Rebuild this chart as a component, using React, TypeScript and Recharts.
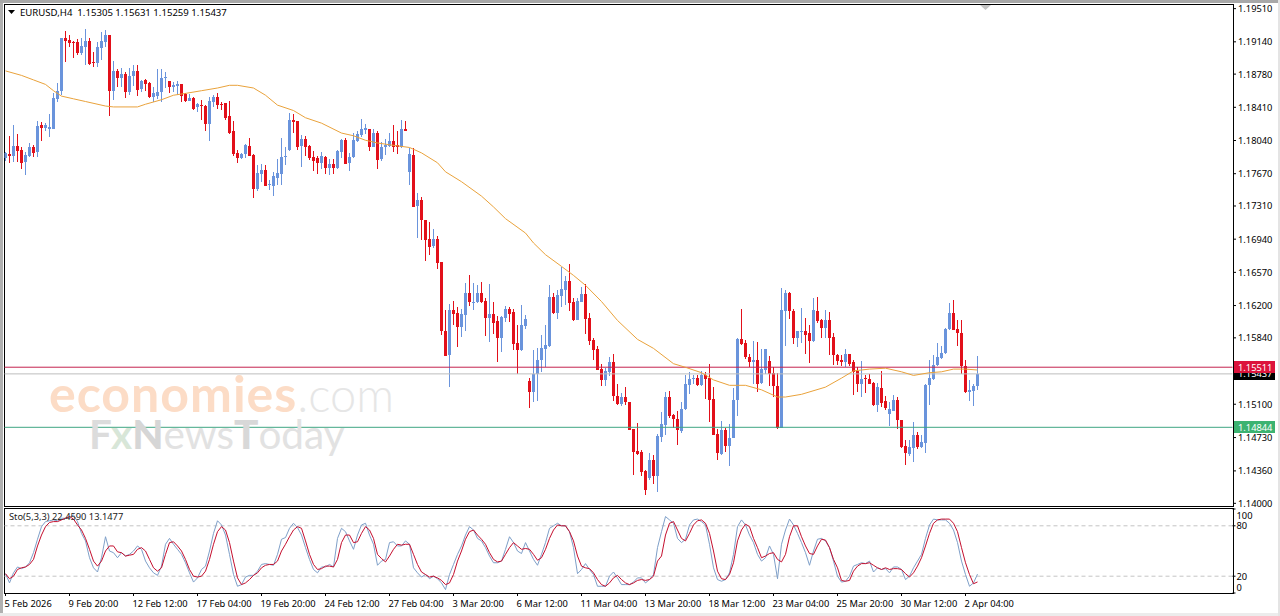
import React from "react";
import { ComposedChart, Bar, Line, XAxis, YAxis, ReferenceLine } from "recharts";

// All candle values are pips above 1.1400
const PRICE_BASE = 1.14;
const PIP = 0.0001;

const opens = [
383,388,385,397,392,379,385,396,390,420,
417,415,416,449,458,516,514,512,512,500,
507,513,490,489,505,512,520,458,480,472,
477,457,474,480,460,470,467,451,452,457,
472,469,462,463,465,454,447,450,440,442,
441,421,446,451,443,444,430,413,389,383,
388,397,387,349,366,370,353,352,361,366,
385,392,425,424,397,404,397,384,383,378,
384,372,377,372,390,403,378,384,402,409,
414,416,396,411,382,396,397,402,398,395,
415,368,387,330,337,314,293,286,293,268,
191,165,215,211,196,209,234,223,223,234,
225,206,210,202,184,206,216,212,178,170,
197,136,124,144,159,171,175,229,211,230,
237,247,224,203,224,232,206,181,171,149,
137,146,157,119,110,118,112,83,58,57,
36,28,48,30,74,87,118,98,94,80,
105,131,138,139,131,143,139,116,77,55,
81,64,73,115,182,178,162,157,159,134,
148,158,145,130,84,214,234,214,184,190,
191,189,180,213,204,195,204,185,165,159,
157,166,157,147,132,139,138,134,109,128,
114,99,103,115,93,64,55,61,76,63,
67,131,138,153,161,167,194,211,193,189,
152,124,125,130.5];

const highs = [
390,408,420,410,396,390,400,398,424,423,
422,432,456,467,516,524,520,513,515,517,
526,516,501,512,523,525,520,491,482,483,
479,483,486,486,470,471,468,462,482,482,
479,469,468,469,466,455,454,451,444,448,
442,451,453,455,445,444,447,424,392,389,
399,406,388,375,377,376,359,368,382,405,
396,433,432,424,409,408,398,391,385,390,
385,382,382,392,404,406,389,411,413,427,
421,416,415,413,401,404,411,420,413,425,
424,394,394,345,340,314,312,305,297,268,
215,221,225,218,216,245,253,245,242,246,
228,243,223,208,208,219,218,216,198,220,
209,139,170,172,187,198,242,234,237,262,
252,266,228,228,240,244,211,183,175,155,
150,162,166,132,122,129,113,83,89,59,
37,56,54,77,101,124,125,99,102,113,
142,146,143,143,147,146,155,129,82,91,
84,88,128,183,216,181,166,180,179,171,
171,164,151,145,239,237,235,216,191,217,
206,198,228,229,205,215,212,189,166,165,
171,166,159,151,158,142,144,135,134,147,
119,113,120,118,93,70,70,90,79,76,
132,159,165,178,175,195,222,226,204,204,
159,137,133,163.1];

const lows = [
380,378,379,379,371,364,384,384,384,402,
413,407,415,445,453,490,507,494,498,498,
487,487,484,484,492,507,430,448,462,462,
450,453,463,452,457,458,450,445,449,445,
461,455,457,453,446,445,447,437,434,425,
413,402,440,438,437,425,410,385,378,382,
383,385,339,347,357,352,348,341,353,353,
376,391,411,392,373,385,381,369,366,371,
366,364,366,371,383,377,369,383,401,407,
410,391,396,371,380,387,396,390,388,394,
413,353,329,295,292,269,276,283,260,187,
163,129,198,173,185,191,219,215,222,222,
186,179,188,157,168,201,201,170,144,169,
194,106,112,114,146,151,173,210,205,218,
220,213,202,203,224,188,176,159,148,130,
130,141,114,109,108,109,81,31,54,30,
9,26,22,13,68,76,95,84,65,78,
104,121,132,130,130,116,90,76,48,54,
57,41,72,97,176,160,151,133,124,133,
144,130,118,83,84,175,205,177,174,178,
166,156,179,200,184,183,165,154,153,152,
151,152,120,124,118,122,132,108,101,107,
104,86,102,83,61,42,53,46,60,61,
56,109,137,152,160,166,192,192,175,144,
123,114,108,125.9];

const closes = [
389,386,397,391,378,387,396,389,419,417,
420,418,450,458,516,513,511,511,500,508,
513,488,489,507,513,520,458,480,472,477,
457,474,480,459,469,465,451,455,457,472,
473,462,464,466,452,447,450,438,443,441,
421,447,451,442,442,428,411,388,383,388,
398,386,349,367,370,352,355,363,367,384,
386,425,423,395,404,396,383,380,378,385,
372,377,372,391,403,377,384,403,410,416,
417,396,411,381,395,398,402,396,396,416,
413,388,329,337,314,292,285,293,267,191,
164,215,210,196,210,234,223,223,234,224,
206,210,200,184,207,216,210,177,170,198,
205,124,144,159,172,176,229,211,231,238,
247,222,203,225,232,205,180,170,148,137,
147,157,119,110,118,113,81,57,55,35,
15,48,30,75,88,118,97,94,81,105,
132,138,139,131,142,138,115,76,56,81,
64,73,115,182,177,162,157,159,133,149,
171,144,130,84,215,234,213,183,191,191,
187,180,215,202,195,204,184,165,158,157,
166,155,146,132,138,138,132,109,129,111,
106,105,115,93,63,56,62,76,63,68,
131,139,154,162,167,194,211,192,189,152,
124,126,130,143.7];

// Moving average: read at the bars where the curve changes direction
const maBars = [0,4,7,10,12,14,17,20,25,27,33,35,39,42,45,49,53,56,58,62,65,68,72,75,79,84,87,90,93,96,101,104,108,110,114,119,122,125,130,132,135,139,142,145,149,153,158,162,167,170,174,177,181,185,189,193,195,199,205,209,212,216,220,224,227,231,234,237,240,243];
const maPips = [480,475,470,465,458,452,449,446,441,440,440,443,448,453,455,458,461,464,464,461,453,442,436,428,422,411,408,403,400,398,395,389,378,368,357,341,329,316,300,289,276,263,253,242,224,203,182,172,155,151,145,137,131,131,126,118,118,121,129,139,147,149,150,146,142,145,146,149,149,148];

const stoMain = [
23,12,24,31,29,31,36,48,64,79,
85,86,87,86,89,89,90,93,85,71,
62,42,30,25,42,67,50,48,42,48,
44,46,50,56,52,38,30,24,21,32,
58,65,58,52,46,36,24,13,18,28,
32,50,71,86,81,69,46,22,8,10,
19,21,21,26,34,35,34,33,46,64,
66,77,83,78,69,54,40,28,24,31,
31,34,31,65,77,73,62,52,69,81,
83,69,58,33,38,40,60,61,56,56,
62,58,30,24,19,22,17,20,17,12,
4,22,34,46,56,69,79,75,65,62,
54,44,36,36,38,52,67,60,50,47,
60,50,40,33,46,60,77,80,83,80,
80,73,54,23,28,35,28,22,8,8,
8,20,25,18,10,10,10,13,18,18,
12,16,22,54,73,91,87,83,65,60,
64,81,87,88,85,81,58,30,16,14,
16,24,46,79,87,81,69,60,46,38,
42,56,46,17,58,75,88,81,71,60,
48,33,50,64,65,62,54,38,20,13,
14,20,32,34,36,35,38,25,30,28,
29,24,31,31,28,16,20,30,38,46,
65,81,88,87,87,87,83,75,60,38,
22,8,12,22.459];

const stoSignal = [
23,17,20,28,30,31,34,40,56,69,
79,84,85,85,87,89,91,88,81,75,
65,52,38,32,38,50,56,56,49,48,
44,45,46,52,54,50,40,30,26,30,
46,60,61,56,50,40,28,20,19,20,
26,40,58,73,79,75,60,38,18,10,
12,16,21,24,30,33,34,34,38,50,
58,67,75,79,77,62,46,34,28,29,
32,32,31,40,60,69,69,60,61,71,
79,75,65,46,41,37,44,52,58,57,
58,58,46,34,25,22,19,20,18,15,
10,12,22,38,50,64,73,75,69,64,
58,48,40,37,38,46,54,60,56,52,
53,52,46,39,42,52,65,75,81,80,
80,73,62,44,32,30,29,24,16,10,
8,12,18,21,16,12,10,12,15,16,
15,16,20,38,44,69,83,85,75,65,
62,71,81,86,87,83,71,50,26,17,
16,22,36,62,75,82,79,65,54,42,
44,47,48,40,37,46,67,80,80,67,
56,47,46,56,64,63,54,40,30,15,
14,15,26,32,35,35,36,33,30,28,
30,28,29,29,28,23,19,24,32,42,
56,71,83,87,88,88,88,83,73,54,
36,22,11,13.1477];

const priceTicks = [1.1951,1.1914,1.1878,1.1841,1.1804,1.1767,1.1731,1.1694,1.1657,1.162,1.1584,1.151,1.1473,1.1436,1.14];
const stoTicks = [100,80,20,0];
const timeLabels = ["5 Feb 2026","9 Feb 20:00","12 Feb 12:00","17 Feb 04:00","19 Feb 20:00","24 Feb 12:00","27 Feb 04:00","3 Mar 20:00","6 Mar 12:00","11 Mar 04:00","13 Mar 20:00","18 Mar 12:00","23 Mar 04:00","25 Mar 20:00","30 Mar 12:00","2 Apr 04:00"];
const BARS_PER_LABEL = 16;

const BID = 1.15511;
const LAST = 1.15437;
const SUPPORT = 1.14844;

const TITLE = "EURUSD,H4  1.15305 1.15631 1.15259 1.15437";
const STO_TITLE = "Sto(5,3,3) 22.4590 13.1477";

const toPrice = (p: number) => PRICE_BASE + p * PIP;

const rows = opens.map((o, i) => {
  const m = maBars.indexOf(i);
  return {
    i,
    open: toPrice(o),
    high: toPrice(highs[i]),
    low: toPrice(lows[i]),
    close: toPrice(closes[i]),
    ma: m >= 0 ? toPrice(maPips[m]) : undefined,
    main: stoMain[i],
    signal: stoSignal[i],
  };
});

const UP = "#6a94dc";
const DOWN = "#e2101a";
const FONT = "'Noto Sans', sans-serif";
const XDOMAIN: [number, number] = [-0.25, 306.75];
const timeTicks = timeLabels.map((_, k) => k * BARS_PER_LABEL);

const Candle = (props: any) => {
  const { x, y, width, height, payload } = props;
  const { open, close, high, low } = payload;
  const cx = Math.floor(x + width / 2) + 0.5;
  const span = high - low || 1;
  const top = y + ((high - Math.max(open, close)) / span) * height;
  const bot = y + ((high - Math.min(open, close)) / span) * height;
  const col = close >= open ? UP : DOWN;
  return (
    <g shapeRendering="crispEdges">
      <rect x={cx - 0.5} y={y} width={1} height={Math.max(height, 1)} fill={col} />
      <rect x={cx - 1.5} y={top} width={3} height={Math.max(bot - top, 1)} fill={col} />
    </g>
  );
};

// MT4 rounds its upper scale labels about a pixel lower than the linear position
const PriceTick = (props: any) => {
  const { x, y, payload } = props;
  const drift = payload.value > 1.151 ? ((payload.value - 1.151) / 0.0441) * 1.7 : 0;
  const yy = y + drift;
  return (
    <g>
      <line x1={1233} x2={1236} y1={yy} y2={yy} stroke="#000" />
      <text x={1238} y={yy + 3.5} fontSize={9.3} fontFamily={FONT} fill="#000" textAnchor="start">
        {payload.value.toFixed(5)}
      </text>
    </g>
  );
};

const StoTick = (props: any) => {
  const { x, y, payload } = props;
  const nudge = payload.value === 100 ? 6 : payload.value === 0 ? -6 : 0;
  return (
    <text x={x} y={y + nudge + 3.5} fontSize={9.3} fontFamily={FONT} fill="#000" textAnchor="start">
      {payload.value}
    </text>
  );
};

const TimeTick = (props: any) => {
  const { x, y, payload } = props;
  const label = timeLabels[payload.value / BARS_PER_LABEL];
  return (
    <text x={x - 1} y={y + 9} fontSize={9.3} fontFamily={FONT} fill="#000" textAnchor="start">
      {label}
    </text>
  );
};

const priceTag = (value: number, fill: string) => (p: any) => {
  const vb = p.viewBox;
  const y = vb.y;
  return (
    <g>
      <rect x={1234} y={y - 6} width={41} height={12} fill={fill} shapeRendering="crispEdges" />
      <text x={1238} y={y + 3.5} fontSize={9.3} fontFamily={FONT} fill="#fff">
        {value.toFixed(5)}
      </text>
    </g>
  );
};

const abs = (s: React.CSSProperties): React.CSSProperties => ({ position: "absolute", ...s });

export default function App() {
  return (
    <div style={abs({ left: 0, top: 0, width: 1280, height: 616, overflow: "hidden", background: "#fff" })}>
      <div style={abs({ left: 0, top: 0, width: 3, height: 616, background: "#b0b0b0" })} />
      <div style={abs({ left: 0, top: 0, width: 1280, height: 3, background: "#a8a8a8" })} />
      <div style={abs({ left: 0, top: 613, width: 1280, height: 3, background: "#ececec" })} />
      <div style={abs({ left: 1278, top: 0, width: 2, height: 616, background: "#e4e4e4" })} />
      <svg style={abs({ left: 980, top: 5 })} width={12} height={6}>
        <polygon points="0,0 11,0 5.5,5" fill="#c4c4c4" />
      </svg>
      <div style={abs({ left: 4, top: 4, width: 1228, height: 501, border: "1px solid #000" })} />
      <div style={abs({ left: 4, top: 508, width: 1228, height: 84, border: "1px solid #000" })} />

      <div style={abs({ left: 0, top: 0 })}>
        <ComposedChart
          width={1280}
          height={510}
          data={rows}
          margin={{ top: 4.5, right: 0, bottom: 4.5, left: 4.5 }}
        >
          <XAxis dataKey="i" type="number" domain={XDOMAIN} hide allowDataOverflow />
          <YAxis
            orientation="right"
            width={47.5}
            domain={[1.13976, 1.19537]}
            ticks={priceTicks}
            interval={0}
            tick={PriceTick}
            axisLine={false}
            tickLine={false}
            allowDataOverflow
          />
          <ReferenceLine y={LAST} stroke="#bdbdbd" label={priceTag(LAST, "#000")} />
          <ReferenceLine y={BID} stroke="#c4234f" label={priceTag(BID, "#dc143c")} />
          <ReferenceLine y={SUPPORT} stroke="#3fa583" label={priceTag(SUPPORT, "#3cb371")} />
          <Bar dataKey={(d: any) => [d.low, d.high]} shape={Candle} barSize={3} isAnimationActive={false} />
          <Line dataKey="ma" stroke="#e9a23b" strokeWidth={1} dot={false} connectNulls isAnimationActive={false} />
        </ComposedChart>
      </div>

      <div style={abs({ left: 0, top: 0 })}>
        <ComposedChart
          width={1280}
          height={616}
          data={rows}
          margin={{ top: 509, right: 0, bottom: 0, left: 4.5 }}
        >
          <XAxis
            dataKey="i"
            type="number"
            domain={XDOMAIN}
            ticks={timeTicks}
            interval={0}
            height={23}
            tick={TimeTick}
            axisLine={false}
            tickSize={3}
            tickLine={{ stroke: "#000" }}
            allowDataOverflow
          />
          <YAxis
            orientation="right"
            width={47.5}
            domain={[0, 100]}
            ticks={stoTicks}
            interval={0}
            tick={StoTick}
            axisLine={false}
            tickSize={3}
            tickMargin={1}
            tickLine={{ stroke: "#000" }}
            allowDataOverflow
          />
          <ReferenceLine y={80} stroke="#c4c4c4" strokeDasharray="4 3" />
          <ReferenceLine y={20} stroke="#c4c4c4" strokeDasharray="4 3" />
          <Line dataKey="main" stroke="#7e9fc8" strokeWidth={1} dot={false} isAnimationActive={false} />
          <Line dataKey="signal" stroke="#c40f2e" strokeWidth={1} dot={false} isAnimationActive={false} />
        </ComposedChart>
      </div>

      <svg style={abs({ left: 8, top: 9 })} width={8} height={6}>
        <polygon points="0,1 7,1 3.5,5" fill="#000" />
      </svg>

      <div style={abs({ left: 20, top: 6, fontFamily: FONT, fontSize: 9.6, lineHeight: "14px", whiteSpace: "pre", color: "#000" })}>{TITLE}</div>
      <div style={abs({ left: 9, top: 510, fontFamily: FONT, fontSize: 9.3, lineHeight: "14px", whiteSpace: "pre", color: "#222" })}>{STO_TITLE}</div>

      <div style={abs({ left: 49, top: 365, fontFamily: "Lato, sans-serif", fontSize: 50, lineHeight: "56px", whiteSpace: "pre" })}>
        <span style={{ color: "#fcdcc6", fontWeight: 700, letterSpacing: 1 }}>economies</span>
        <span style={{ color: "#e6e6e6", fontWeight: 300, fontSize: 47 }}>.com</span>
      </div>
      <div style={abs({ left: 89, top: 408, fontFamily: "Lato, sans-serif", fontSize: 40.5, lineHeight: "52px", whiteSpace: "pre" })}>
        <span style={{ color: "#dcdcdc", fontWeight: 700 }}>F</span>
        <span style={{ color: "#d8e6d8", fontWeight: 700 }}>x</span>
        <span style={{ color: "#d6d6d6", fontWeight: 900 }}>N</span>
        <span style={{ color: "#e2e2e2", fontWeight: 400 }}>ews</span>
        <span style={{ color: "#d8d8d8", fontWeight: 900 }}>T</span>
        <span style={{ color: "#e2e2e2", fontWeight: 400 }}>oday</span>
      </div>
    </div>
  );
}
